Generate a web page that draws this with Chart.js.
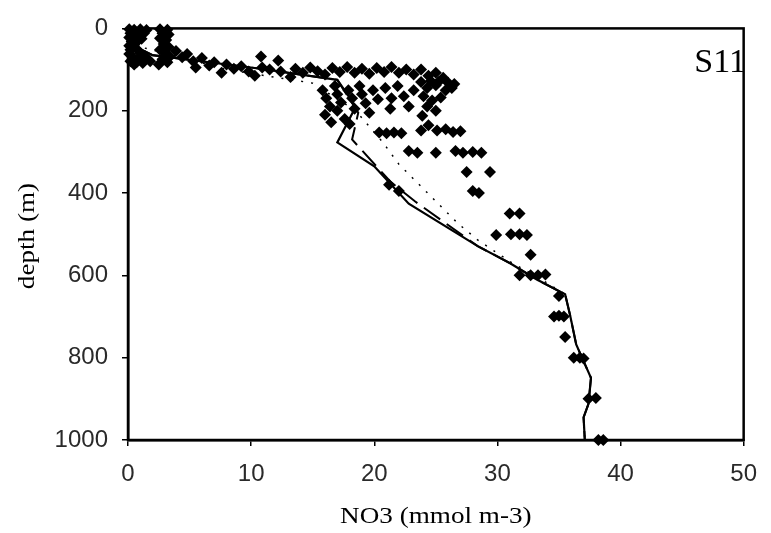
<!DOCTYPE html>
<html>
<head>
<meta charset="utf-8">
<script src="https://cdn.jsdelivr.net/npm/chart.js@4/dist/chart.umd.min.js"></script>
<style>
html,body{margin:0;padding:0;background:#fff;}
#c{display:block;}
</style>
</head>
<body>
<canvas id="c" width="771" height="533"></canvas>
<script>
// ---- Data ----
const xTicks = [0, 10, 20, 30, 40, 50];
const yTicks = [0, 200, 400, 600, 800, 1000];

// observed NO3 (mmol m-3)
const obsNO3 = [
  // surface block
  0.1,0.5,1.0,1.5,0.2,0.7,1.3,0.1,0.6,1.1,0.3,0.8,0.1,0.5,0.2,0.7,1.0,0.1,0.4,0.9,1.4,0.2,0.7,1.2,1.8,0.5,
  // second column
  2.6,3.2,2.8,3.3,2.6,3.1,2.9,3.3,2.6,3.0,3.4,2.8,3.2,2.5,
  // trail and upper row
  3.9,4.4,4.8,5.3,5.5,6.0,6.6,7.0,7.6,8.0,8.6,9.2,9.8,10.3,10.8,10.9,11.5,12.2,12.4,13.2,13.6,14.2,14.8,
  15.4,16.0,16.6,17.2,17.8,18.4,19.0,19.6,20.2,20.8,21.4,22.0,22.6,23.2,23.8,24.4,25.0,25.6,26.0,26.3,25.2,24.6,
  // left blob
  15.8,16.1,16.4,16.0,16.8,17.0,17.3,17.0,17.6,17.9,18.2,18.4,18.8,19.0,19.3,19.6,19.9,20.3,18.0,16.5,
  // middle
  20.9,21.4,21.9,22.4,22.8,21.3,23.2,
  // right cluster
  23.8,24.3,25.0,25.8,26.5,24.0,24.7,25.4,24.3,25.0,23.9,24.4,25.1,25.8,26.4,27.0,23.8,
  // row near 250 m
  20.4,21.0,21.6,22.2,
  // along the profile
  21.2,22.0,
  // deep
  22.8,23.5,25.0,26.6,27.2,28.0,28.7,27.5,29.4,28.0,28.5,31.0,31.8,29.9,31.1,31.8,32.4,32.7,
  31.8,32.7,33.3,33.9,35.0,34.6,35.0,35.4,35.5,36.2,36.7,37.0,37.4,38.0,38.2,38.6
];
// observed depth (m)
const obsDepth = [
  2,3,2,4,12,10,12,22,20,25,32,30,42,40,52,50,60,62,70,72,68,80,82,84,80,88,
  2,3,12,15,24,28,38,45,52,60,68,75,82,88,
  55,70,62,80,95,72,90,82,108,88,98,92,105,115,68,95,100,78,105,118,98,108,95,
  104,112,96,106,94,108,98,110,96,106,94,108,100,112,100,115,108,120,132,145,130,128,
  150,170,190,210,140,160,180,200,220,150,170,195,140,160,182,205,150,172,232,228,
  145,170,140,165,190,195,150,
  130,145,138,150,135,165,175,168,190,200,212,235,248,245,252,250,248,
  253,255,253,255,
  380,395,
  298,302,302,298,302,300,302,349,349,395,400,450,450,502,500,500,502,550,
  600,600,600,598,650,700,698,700,750,800,800,802,900,898,1000,1000
];

// model profiles
const solidNO3   = [0.3, 0.3, 2.0, 10.0, 17.0, 18.5, 17.0, 20.0, 22.8, 28.4, 31.0, 33.2, 35.5, 35.9, 36.4, 37.6, 37.4, 37.0, 37.1];
const solidDepth = [0,   40,  65,  95,   125,  190,  277,  335,  426,  529,  570,  610,  646,  696,  768,  849,  912,  945,  1000];

const dashNO3    = [0.3, 0.3, 2.0, 10.0, 17.0, 18.7, 18.2, 21.3, 23.3, 28.4, 31.0, 33.2, 35.5, 35.9, 36.4, 37.6, 37.4, 37.0, 37.1];
const dashDepth  = [0,   40,  65,  95,   125,  205,  270,  372,  420,  529,  570,  610,  646,  696,  768,  849,  912,  945,  1000];

const dotNO3     = [0.3, 0.3, 3.0, 8.0, 15.0, 18.5, 20.7, 22.0, 24.4, 26.8, 28.4, 31.1, 33.3, 35.5, 35.9, 36.4, 37.6, 37.4, 37.0, 37.1];
const dotDepth   = [0,   40,  60,  100, 133,  200,  277,  330,  402,  474,  514,  568,  605,  646,  696,  768,  849,  912,  945,  1000];

const toXY = (xs, ys) => xs.map((v, i) => ({x: v, y: ys[i]}));

// ---- layout constants ----
const PLOT_LEFT = 128, PLOT_RIGHT = 753, PLOT_TOP = 22, PLOT_BOTTOM = 440;
const W = 771, H = 533;

const frameAndText = {
  id: 'frameAndText',
  afterDraw(chart) {
    const ctx = chart.ctx, a = chart.chartArea;
    ctx.save();
    ctx.strokeStyle = '#000';
    ctx.lineWidth = 2.5;
    ctx.strokeRect(a.left, a.top, a.right - a.left, a.bottom - a.top);
    ctx.fillStyle = '#000';
    ctx.font = '23px "Liberation Serif", "Times New Roman", serif';
    ctx.textAlign = 'center';
    ctx.textBaseline = 'middle';
    ctx.save();
    ctx.translate((a.left + a.right) / 2, 517);
    ctx.scale(1.18, 1);
    ctx.fillText('NO3 (mmol m-3)', 0, 0);
    ctx.restore();
    ctx.save();
    ctx.translate(28, 236);
    ctx.rotate(-Math.PI / 2);
    ctx.scale(1.18, 1);
    ctx.fillText('depth (m)', 0, 0);
    ctx.restore();
    ctx.font = '34px "Liberation Serif", "Times New Roman", serif';
    ctx.textAlign = 'right';
    ctx.textBaseline = 'alphabetic';
    ctx.fillText('S11', 746, 72);
    ctx.restore();
  }
};

const tickFont = {family: '"Liberation Sans", Arial, sans-serif', size: 24};

new Chart(document.getElementById('c'), {
  type: 'scatter',
  data: {
    datasets: [
      {
        label: 'solid',
        data: toXY(solidNO3, solidDepth),
        showLine: true, borderColor: '#000', borderWidth: 2.2,
        pointRadius: 0, fill: false, order: 1
      },
      {
        label: 'dashed',
        data: toXY(dashNO3, dashDepth),
        showLine: true, borderColor: '#000', borderWidth: 2, borderDash: [20, 8],
        pointRadius: 0, fill: false, order: 2
      },
      {
        label: 'dotted',
        data: toXY(dotNO3, dotDepth),
        showLine: true, borderColor: '#000', borderWidth: 1.5, borderDash: [2, 8],
        pointRadius: 0, fill: false, order: 3
      },
      {
        label: 'obs',
        data: toXY(obsNO3, obsDepth),
        showLine: false, pointStyle: 'rectRot', pointRadius: 6,
        backgroundColor: '#000', borderColor: '#000', borderWidth: 0, order: 0,
        clip: 8
      }
    ]
  },
  options: {
    responsive: false,
    animation: false,
    devicePixelRatio: 1,
    layout: {padding: {left: 0, right: W - PLOT_RIGHT, top: PLOT_TOP, bottom: 0}},
    plugins: {legend: {display: false}, tooltip: {enabled: false}},
    scales: {
      x: {
        type: 'linear', min: 0, max: 50,
        afterBuildTicks: s => { s.ticks = xTicks.map(v => ({value: v})); },
        afterFit: s => { s.height = H - PLOT_BOTTOM; },
        ticks: {font: tickFont, color: '#2a2a2a', padding: 14, maxRotation: 0, callback: v => String(v)},
        grid: {drawOnChartArea: false, tickLength: 6, color: '#000', lineWidth: 1.5},
        border: {color: '#000', width: 2.5}
      },
      y: {
        type: 'linear', min: 0, max: 1000, reverse: true,
        afterBuildTicks: s => { s.ticks = yTicks.map(v => ({value: v})); },
        afterFit: s => { s.width = PLOT_LEFT; },
        ticks: {font: tickFont, color: '#2a2a2a', padding: 14, callback: v => String(v)},
        grid: {drawOnChartArea: false, tickLength: 6, color: '#000', lineWidth: 1.5},
        border: {color: '#000', width: 2.5}
      }
    }
  },
  plugins: [frameAndText]
});
</script>
</body>
</html>
